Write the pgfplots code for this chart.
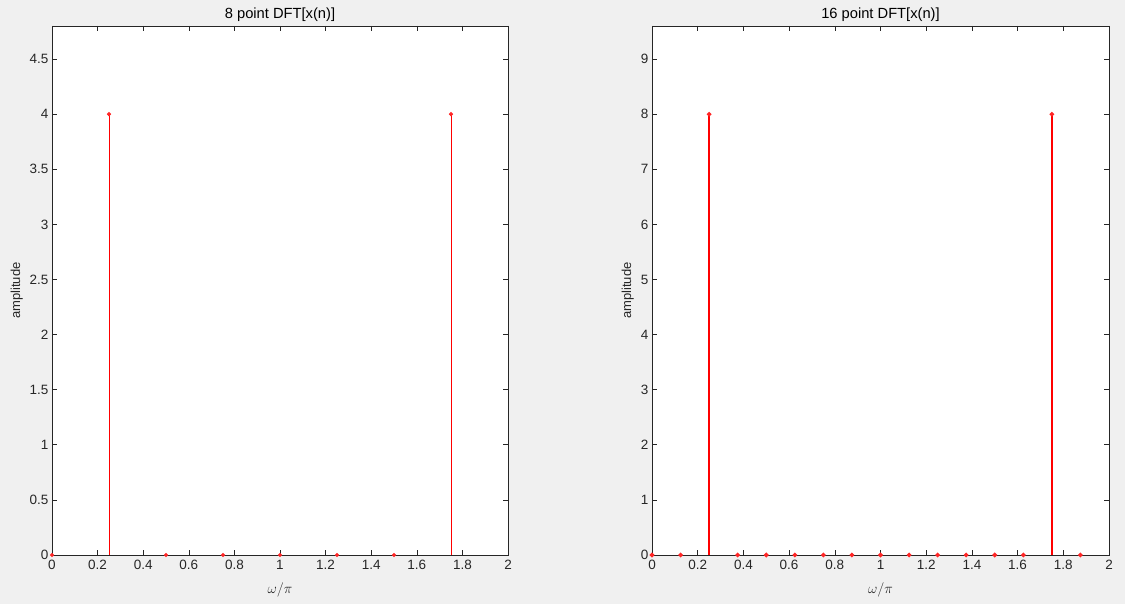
\documentclass[border=0pt]{standalone}
\usepackage{pgfplots}
\pgfplotsset{compat=1.18}
\usepackage{fontspec}
\setmainfont{Liberation Sans}
\definecolor{bg}{HTML}{F0F0F0}
\definecolor{axc}{HTML}{262626}
\pgfplotsset{
  dftstyle/.style={
    scale only axis,
    anchor=south west,
    height=529pt,
    xmin=0, xmax=2, ymin=0,
    xtick={0,0.2,0.4,0.6,0.8,1,1.2,1.4,1.6,1.8,2},
    xticklabels={0,0.2,0.4,0.6,0.8,1,1.2,1.4,1.6,1.8,2},
    tick align=inside,
    major tick length=5pt,
    axis line style={axc, line width=0.6pt},
    tick style={axc, line width=0.6pt},
    axis background/.style={fill=white},
    clip=false,
    /pgf/number format/assume math mode=true,
    ticklabel style={font=\fontsize{13.5}{15}\selectfont, text=axc},
    xticklabel style={yshift=-2pt},
    label style={font=\fontsize{13}{15}\selectfont, text=axc},
    every axis title shift=0pt,
    title style={font=\fontsize{14.7}{16}\selectfont, text=black, at={(axis description cs:0.5,1.0138)}, anchor=base},
    xlabel={$\omega/\pi$},
    xlabel style={font=\fontsize{14.5}{16}\selectfont, at={(axis description cs:0.5,-0.066)}, anchor=center},
    ylabel={amplitude},
  },
}
\begin{document}
\begin{tikzpicture}[x=1pt,y=1pt]
\fill[bg] (0,0) rectangle (1125,604);
% 8 point DFT
\begin{axis}[dftstyle, at={(52pt,49pt)}, width=456pt,
  ymax=4.8,
  ytick={0,0.5,1,1.5,2,2.5,3,3.5,4,4.5},
  yticklabels={0,0.5,1,1.5,2,2.5,3,3.5,4,4.5},
  title={8 point DFT[x(n)]},
  ylabel style={at={(axis description cs:-0.077,0.5)}, anchor=center},
]
\addplot[ycomb, color=red, line width=0.9pt, mark=*, mark size=1.6pt,
  mark options={fill=red!85, draw=red!85}] coordinates {
  (0,0) (0.25,4) (0.5,0) (0.75,0) (1,0) (1.25,0) (1.5,0) (1.75,4)
};
\end{axis}
% 16 point DFT
\begin{axis}[dftstyle, at={(652pt,49pt)}, width=457pt,
  ymax=9.6,
  ytick={0,1,2,3,4,5,6,7,8,9},
  yticklabels={0,1,2,3,4,5,6,7,8,9},
  title={16 point DFT[x(n)]},
  ylabel style={at={(axis description cs:-0.053,0.5)}, anchor=center},
]
\addplot[ycomb, color=red, line width=1.3pt, mark=*, mark size=1.6pt,
  mark options={fill=red!85, draw=red!85}] coordinates {
  (0,0) (0.125,0) (0.25,8) (0.375,0) (0.5,0) (0.625,0) (0.75,0) (0.875,0)
  (1,0) (1.125,0) (1.25,0) (1.375,0) (1.5,0) (1.625,0) (1.75,8) (1.875,0)
};
\end{axis}
\end{tikzpicture}
\end{document}
